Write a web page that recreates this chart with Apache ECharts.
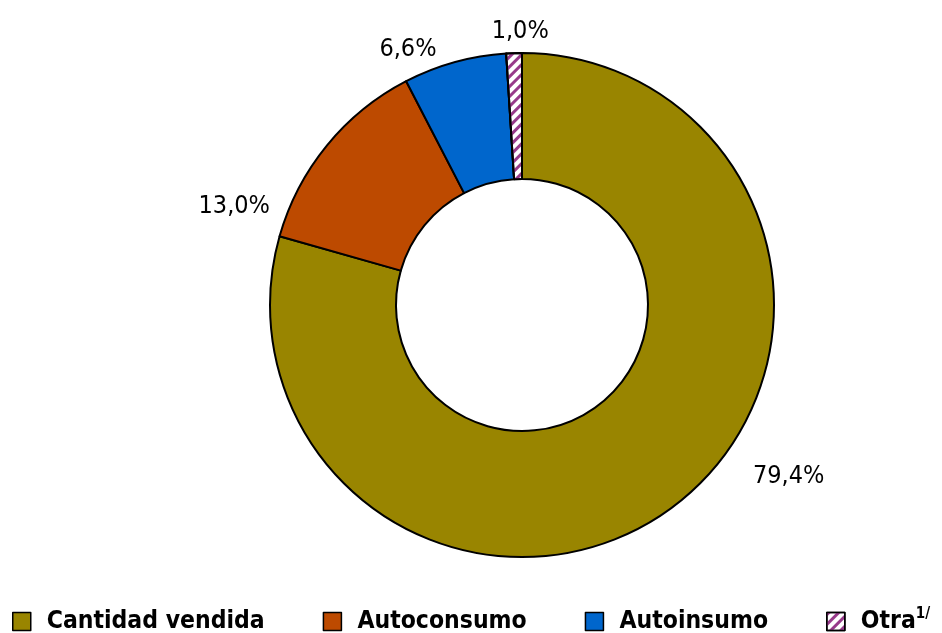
<!DOCTYPE html>
<html><head><meta charset="utf-8">
<script src="https://cdn.jsdelivr.net/npm/echarts@6/dist/echarts.min.js"></script>
<style>html,body{margin:0;padding:0;background:#fff}#c{width:942px;height:633px}</style>
</head><body><div id="c"></div>
<script>
const categories = ['Cantidad vendida', 'Autoconsumo', 'Autoinsumo', 'Otra'];
const values = [79.4, 13.0, 6.6, 1.0];
const colors = ['#998500', '#bd4a00', '#0066cc', '#ffffff'];
const FONT = '"DejaVu Sans Condensed", "Liberation Sans Narrow", sans-serif';
const labelShift = [[58, -38], [-39, 67], [41, -21], [50, -12]];

const chart = echarts.init(document.getElementById('c'), null, {renderer: 'canvas'});
const data = categories.map((c, i) => {
  const d = {name: c, value: values[i], itemStyle: {color: colors[i]}};
  if (c === 'Otra') {
    d.itemStyle.decal = {symbol: 'rect', color: '#973a8a', dashArrayX: [1, 0], dashArrayY: [3, 4], rotation: -Math.PI / 4, symbolSize: 1};
  }
  return d;
});
chart.setOption({
  animation: false,
  legend: {
    top: 607, left: 12, width: 940, padding: 0, itemWidth: 18, itemHeight: 18, itemGap: 58,
    icon: 'rect',
    itemStyle: {borderColor: '#000', borderWidth: 1.5},
    textStyle: {fontFamily: FONT, fontSize: 24.5, fontWeight: 'bold', color: '#000',
      rich: {
        b: {fontFamily: FONT, fontSize: 24.5, fontWeight: 'bold', padding: [0, 0, 0, 11]},
        s: {fontFamily: FONT, fontSize: 15, fontWeight: 'bold', verticalAlign: 'top', padding: [0, 0, 14, 0]}
      }},
    formatter: n => n === 'Otra' ? '{b|Otra}{s|1/}' : '{b|' + n + '}',
    data: categories
  },
  series: [{
    type: 'pie',
    center: [522, 305],
    radius: [126, 252],
    startAngle: 90,
    clockwise: true,
    data: data,
    itemStyle: {borderColor: '#000', borderWidth: 2},
    label: {show: true, position: 'outside', fontFamily: FONT, fontSize: 25, color: '#000',
      formatter: p => p.value.toFixed(1).replace('.', ',') + '%'},
    labelLine: {show: false, length: 10, length2: 10},
    labelLayout: p => ({dx: labelShift[p.dataIndex][0], dy: labelShift[p.dataIndex][1]})
  }]
});
</script></body></html>
